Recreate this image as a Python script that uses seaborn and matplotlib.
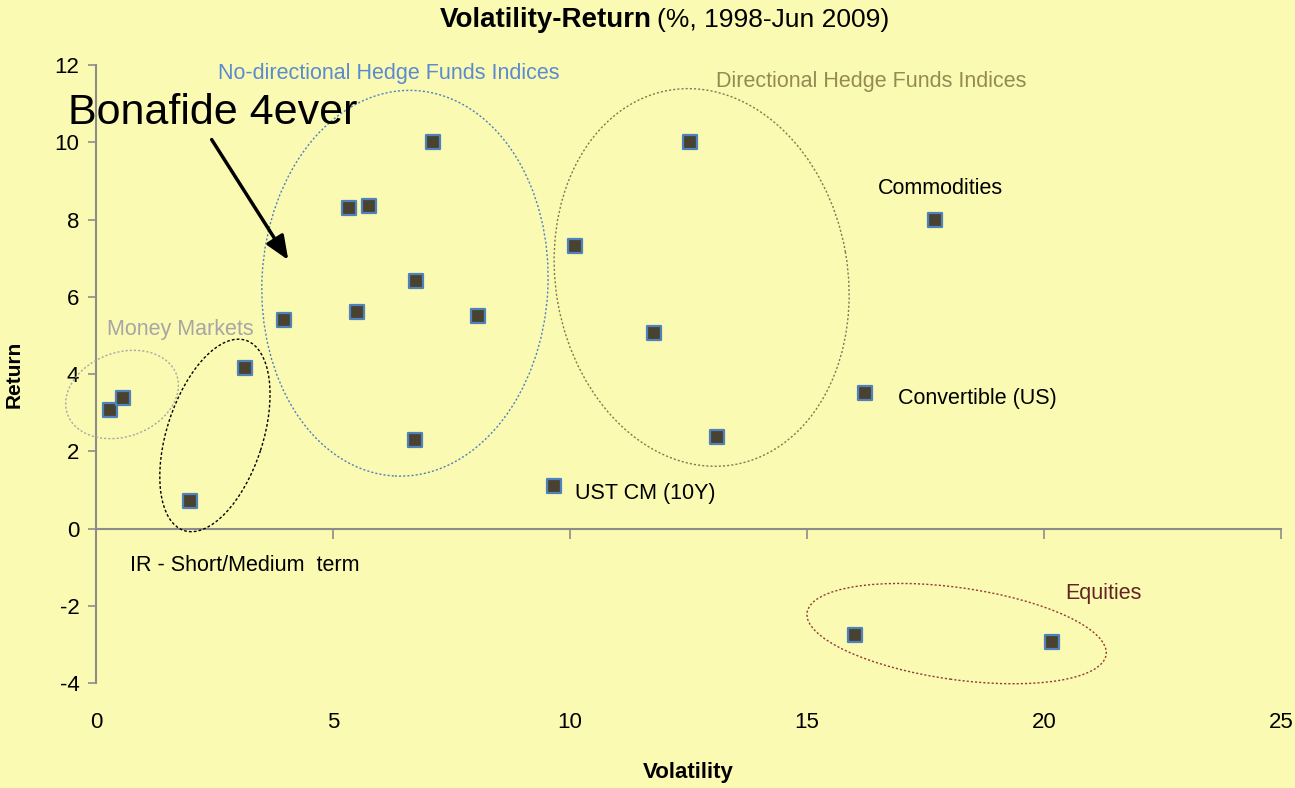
import pandas as pd
import seaborn as sns
import matplotlib.pyplot as plt
from matplotlib.patches import Ellipse
from matplotlib.transforms import ScaledTranslation

# volatility / return points
volatility = [0.30, 0.57, 1.98, 3.14, 3.97, 5.34, 5.76, 7.11, 5.51, 6.75, 8.06, 6.73,
              9.66, 10.10, 12.53, 11.77, 13.10, 17.70, 16.22, 16.01, 20.17]
returns = [3.06, 3.37, 0.70, 4.15, 5.39, 8.29, 8.34, 10.00, 5.60, 6.40, 5.49, 2.28,
           1.09, 7.31, 10.00, 5.05, 2.36, 7.98, 3.52, -2.75, -2.93]
x_ticks = [0, 5, 10, 15, 20, 25]
y_ticks = [-4, -2, 0, 2, 4, 6, 8, 10, 12]

bg = '#fafab2'

sns.set_theme(style='white', rc={'axes.facecolor': bg, 'figure.facecolor': bg})
plt.rcParams['font.family'] = ['Liberation Sans', 'DejaVu Sans']
plt.rcParams['axes.unicode_minus'] = False
plt.rcParams['text.color'] = 'black'
plt.rcParams['axes.labelcolor'] = 'black'
plt.rcParams['xtick.color'] = 'black'
plt.rcParams['ytick.color'] = 'black'

df = pd.DataFrame({'Volatility': volatility, 'Return': returns})

fig = plt.figure(figsize=(12.95, 7.88), dpi=100)
ax = fig.add_axes([0.0741, 0.1332, 0.9149, 0.7843])

sns.scatterplot(data=df, x='Volatility', y='Return', ax=ax, marker='s', s=95,
                color='#4a4230', edgecolor='#4f81bd', linewidth=1.6, zorder=5)

ax.set_xlim(0, 25)
ax.set_ylim(-4, 12)
ax.set_yticks(y_ticks)
ax.set_xticks(x_ticks)
ax.set_xticklabels([str(t) for t in x_ticks])
ax.tick_params(axis='y', direction='out', length=6, width=1.2, color='#8c8c8c',
               labelsize=16, left=True, pad=6)
ax.tick_params(axis='x', length=0, labelsize=16, pad=21)
for s in ['top', 'right', 'bottom']:
    ax.spines[s].set_visible(False)
ax.spines['left'].set_color('#8c8c8c')
ax.spines['left'].set_linewidth(1.5)

# horizontal axis line at zero, ticks downward, no labels
zero = ax.secondary_xaxis(0.25)
zero.set_xticks(x_ticks)
zero.tick_params(direction='out', length=7, width=1.2, color='#8c8c8c', labelbottom=False)
zero.spines['bottom'].set_color('#8c8c8c')
zero.spines['bottom'].set_linewidth(1.5)

ax.set_xlabel('Volatility', fontsize=16, fontweight='bold', labelpad=21)
ax.set_ylabel('Return', fontsize=15, fontweight='bold', labelpad=22)

fig.text(0.503, 0.975, 'Volatility-Return', ha='right', va='center', fontsize=20, fontweight='bold')
fig.text(0.507, 0.975, '(%, 1998-Jun 2009)', ha='left', va='center', fontsize=19)


def ring(cx, cy, w, h, angle, color, ls):
    # width/height in pixels, centre in data units
    tr = fig.dpi_scale_trans + ScaledTranslation(cx, cy, ax.transData)
    ax.add_patch(Ellipse((0, 0), w / 100, h / 100, angle=angle, transform=tr, clip_on=False,
                         fill=False, edgecolor=color, linestyle=ls, linewidth=1.0, zorder=3))


ring(0.55, 3.47, 116, 84, 20, '#a6a6a6', (0, (1.5, 1.5)))
ring(2.51, 2.41, 200, 96, 72, '#000000', (0, (2, 1.5)))
ring(6.52, 6.35, 286, 386, -3, '#4f81bd', (0, (1.5, 1.5)))
ring(12.78, 6.50, 380, 292, 100, '#7f7a50', (0, (1.5, 1.5)))
ring(18.16, -2.72, 302, 92, -8, '#953735', (0, (1.5, 1.5)))

labels = [
    (2.57, 11.84, 'No-directional Hedge Funds Indices', '#5a8ad0'),
    (13.08, 11.63, 'Directional Hedge Funds Indices', '#948a54'),
    (16.50, 8.86, 'Commodities', 'black'),
    (16.92, 3.42, 'Convertible (US)', 'black'),
    (10.11, 0.96, 'UST CM (10Y)', 'black'),
    (0.72, -0.88, 'IR - Short/Medium  term', 'black'),
    (0.23, 5.23, 'Money Markets', '#a6a6a6'),
    (20.46, -1.61, 'Equities', '#632523'),
]
for x, y, t, c in labels:
    ax.text(x, y, t, color=c, fontsize=15.5, ha='left', va='center_baseline', zorder=6)

ax.text(-0.59, 10.88, 'Bonafide 4ever', fontsize=31,
        ha='left', va='center_baseline', clip_on=False, zorder=7)
ax.annotate('', xy=(4.09, 6.89), xytext=(2.41, 10.13),
            arrowprops=dict(arrowstyle='-|>,head_width=0.5,head_length=1.2', color='black', lw=2.5),
            zorder=7, annotation_clip=False)

fig.savefig('out.png', dpi=100, facecolor=bg)
